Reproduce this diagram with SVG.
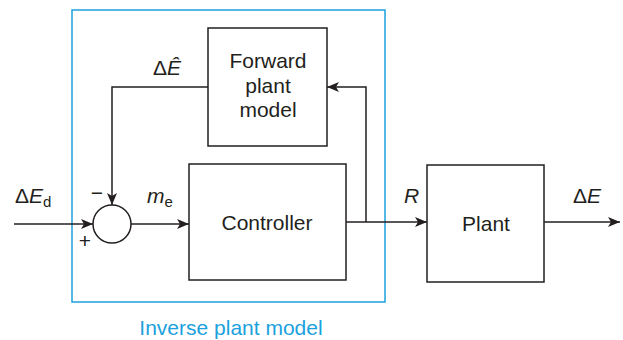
<svg xmlns="http://www.w3.org/2000/svg" width="623" height="340" viewBox="0 0 623 340">
<defs>
<style>
.box{fill:#fff;stroke:#231f20;stroke-width:1.5}
.ln{fill:none;stroke:#231f20;stroke-width:1.5}
.t{font-family:"Liberation Sans",Arial,sans-serif;font-size:21px;fill:#231f20}
.i{font-style:italic}
.s{font-size:15px}
</style>
<marker id="ah" viewBox="0 0 12 10" refX="12" refY="5" markerWidth="12" markerHeight="10" markerUnits="userSpaceOnUse" orient="auto">
<path d="M0,0 L12,5 L0,10 L3,5 Z" fill="#231f20"/>
</marker>
</defs>
<rect width="623" height="340" fill="#fff"/>
<g id="inverse-plant-model">
<rect x="72" y="10" width="313" height="292" fill="none" stroke="#1ba1dd" stroke-width="1.5"/>
<text x="231" y="335" text-anchor="middle" class="t" style="fill:#1ba1dd">Inverse plant model</text>
</g>
<g id="forward-plant-model">
<rect class="box" x="208" y="28" width="119" height="118"/>
<text class="t" text-anchor="middle"><tspan x="268" y="68">Forward</tspan><tspan x="268" y="93">plant</tspan><tspan x="268" y="117">model</tspan></text>
</g>
<g id="controller">
<rect class="box" x="189" y="164" width="157" height="116"/>
<text class="t" x="267" y="230" text-anchor="middle">Controller</text>
</g>
<g id="plant">
<rect class="box" x="427" y="165" width="117" height="117"/>
<text class="t" x="486" y="231" text-anchor="middle">Plant</text>
</g>
<g id="sum">
<circle cx="112" cy="224" r="19" fill="#fff" stroke="#231f20" stroke-width="1.5"/>
<text class="t" x="97" y="200" text-anchor="middle">−</text>
<text class="t" x="85" y="248" text-anchor="middle">+</text>
</g>
<g id="connectors">
<path class="ln" d="M14,224 H93" marker-end="url(#ah)"/>
<path class="ln" d="M131,224 H189" marker-end="url(#ah)"/>
<path class="ln" d="M346,222 H427" marker-end="url(#ah)"/>
<path class="ln" d="M544,222 H620" marker-end="url(#ah)"/>
<path class="ln" d="M208,87 H112 V205" marker-end="url(#ah)"/>
<path class="ln" d="M366,222 V87 H327" marker-end="url(#ah)"/>
</g>
<g id="labels">
<text class="t" x="15" y="203">Δ<tspan class="i">E</tspan><tspan class="s" dy="4">d</tspan></text>
<text class="t" x="147" y="203"><tspan class="i">m</tspan><tspan class="s" dy="4">e</tspan></text>
<text class="t" x="153" y="75">Δ<tspan class="i">Ê</tspan></text>
<text class="t i" x="404" y="203">R</text>
<text class="t" x="573" y="203">Δ<tspan class="i">E</tspan></text>
</g>
</svg>
